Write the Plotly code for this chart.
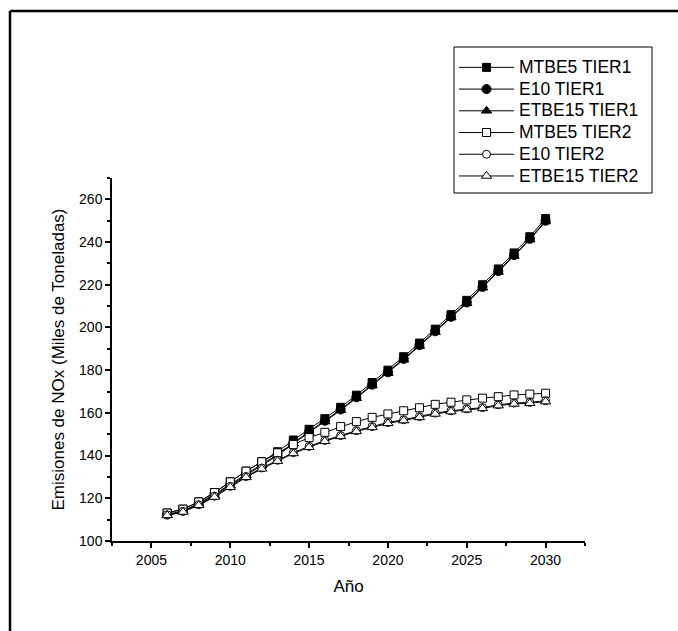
import plotly.graph_objects as go

years = list(range(2006, 2031))

mtbe5_tier1 = [113.1, 114.9, 118.3, 122.7, 127.7, 132.7, 137.1, 141.8, 147.3, 152.3, 157.3, 162.6, 168.3,
               174.2, 180.0, 186.3, 192.7, 199.2, 206.0, 212.7, 220.0, 227.4, 234.9, 242.5, 251.0]
e10_tier1 = [112.4, 114.2, 117.5, 121.8, 126.5, 131.3, 135.8, 140.5, 146.0, 151.2, 156.3, 161.6, 167.3,
             173.2, 179.0, 185.3, 191.7, 198.2, 205.0, 211.7, 219.0, 226.4, 233.9, 241.5, 250.0]
etbe15_tier1 = [112.1, 113.9, 117.2, 121.4, 126.0, 130.8, 135.3, 140.0, 145.6, 150.8, 155.9, 161.2, 166.9,
                172.8, 178.6, 184.9, 191.3, 197.8, 204.6, 211.3, 218.6, 226.0, 233.5, 241.1, 249.6]
mtbe5_tier2 = [113.1, 114.9, 118.3, 122.7, 127.7, 132.7, 137.1, 141.3, 145.2, 148.4, 150.9, 153.6, 155.9,
               157.9, 159.5, 161.0, 162.4, 164.0, 165.0, 166.1, 166.9, 167.6, 168.4, 168.8, 169.2]
e10_tier2 = [112.3, 113.9, 117.0, 121.0, 125.6, 130.2, 134.2, 137.8, 141.4, 144.3, 147.1, 149.4, 151.7,
             153.6, 155.5, 156.8, 158.3, 159.9, 161.0, 161.9, 162.5, 163.8, 164.6, 164.9, 165.7]
etbe15_tier2 = [112.0, 113.6, 116.7, 120.6, 125.2, 129.8, 133.8, 137.4, 141.0, 143.9, 146.7, 149.0, 151.3,
                153.2, 155.1, 156.4, 157.9, 159.5, 160.6, 161.5, 162.1, 163.4, 164.2, 164.5, 165.3]

series = [
    ("MTBE5 TIER1", mtbe5_tier1, "square", "black", 8),
    ("E10 TIER1", e10_tier1, "circle", "black", 9),
    ("ETBE15 TIER1", etbe15_tier1, "triangle-up", "black", 9),
    ("MTBE5 TIER2", mtbe5_tier2, "square", "white", 8),
    ("E10 TIER2", e10_tier2, "circle", "white", 8),
    ("ETBE15 TIER2", etbe15_tier2, "triangle-up", "white", 9),
]

FONT = "Liberation Sans, Arial, sans-serif"

fig = go.Figure()
for name, vals, sym, fill, size in series:
    fig.add_trace(go.Scatter(
        x=years, y=vals, name='<span style="font-size:17.5px">' + name + '</span>', mode="lines+markers",
        line=dict(color="black", width=1),
        marker=dict(symbol=sym, size=size, color=fill, line=dict(color="black", width=1)),
    ))

W, H = 678, 631
ml, mr, mt, mb = 112, 93, 178, 90
pw, ph = W - ml - mr, H - mt - mb

def px_to_paper_x(px):
    return (px - ml) / pw

def px_to_paper_y(py):
    return (H - mb - py) / ph

fig.update_layout(
    width=W, height=H,
    margin=dict(l=ml, r=mr, t=mt, b=mb, pad=0),
    paper_bgcolor="white", plot_bgcolor="white",
    font=dict(family=FONT, size=14, color="black"),
    showlegend=True,
    legend=dict(
        x=px_to_paper_x(454), y=px_to_paper_y(51.5), xanchor="left", yanchor="top",
        borderwidth=0, bgcolor="rgba(0,0,0,0)",
        font=dict(family=FONT, size=14.4, color="black"),
        tracegroupgap=0, itemwidth=55,
    ),
    xaxis=dict(
        range=[2002.5, 2032.5], tickmode="linear", tick0=2005, dtick=5,
        showgrid=False, zeroline=False, showline=True, linecolor="black", linewidth=1.5,
        ticks="outside", ticklen=5, tickwidth=1.5, tickcolor="black",
        minor=dict(tickmode="linear", tick0=2002.5, dtick=2.5, ticks="outside", ticklen=3, tickwidth=1.5, tickcolor="black"),
        tickfont=dict(size=14),
        title=dict(text="Año", font=dict(size=17), standoff=14),
    ),
    yaxis=dict(
        range=[100, 270], tickmode="linear", tick0=100, dtick=20,
        showgrid=False, zeroline=False, showline=True, linecolor="black", linewidth=1.5,
        ticks="outside", ticklen=5, tickwidth=1.5, tickcolor="black",
        minor=dict(tickmode="linear", tick0=100, dtick=10, ticks="outside", ticklen=3, tickwidth=1.5, tickcolor="black"),
        tickfont=dict(size=14),
        title=dict(text="Emisiones de NOx (Miles de Toneladas)", font=dict(size=17), standoff=10),
    ),
)

# legend frame
fig.add_shape(type="rect", xref="paper", yref="paper",
              x0=px_to_paper_x(454), x1=px_to_paper_x(652), y0=px_to_paper_y(193), y1=px_to_paper_y(47),
              line=dict(color="black", width=1), fillcolor="white", layer="above")

# outer frame (top and left edges visible in reference)
fx = px_to_paper_x(10)
fy = px_to_paper_y(11)
fig.add_shape(type="line", xref="paper", yref="paper", x0=fx, x1=fx, y0=fy, y1=px_to_paper_y(640),
              line=dict(color="black", width=2.5))
fig.add_shape(type="line", xref="paper", yref="paper", x0=fx, x1=px_to_paper_x(690), y0=fy, y1=fy,
              line=dict(color="black", width=2.5))

fig.write_html("out.html")
